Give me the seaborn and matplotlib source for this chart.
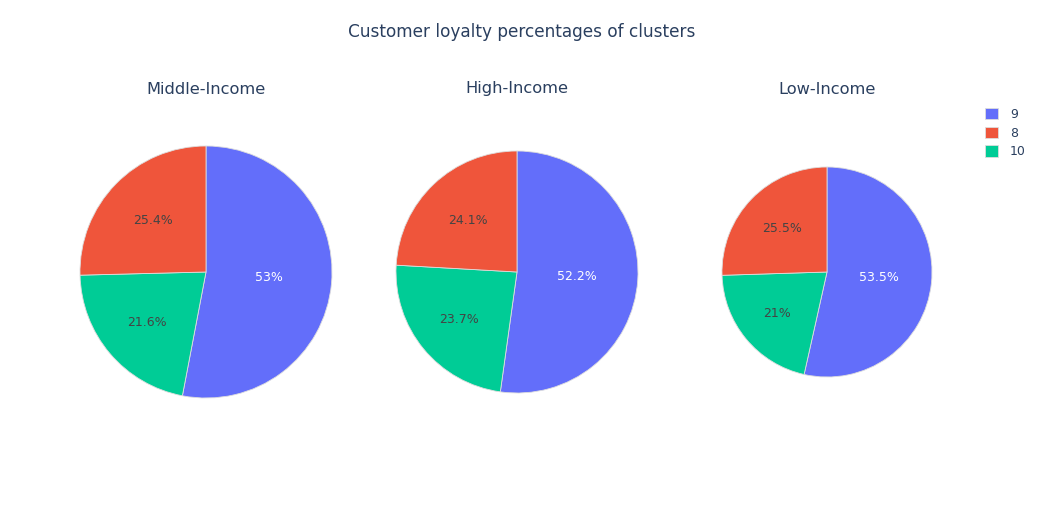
import matplotlib
matplotlib.use("Agg")
import matplotlib.pyplot as plt
import seaborn as sns
import numpy as np

# cluster labels in legend order, and the percentages
clusters = ["9", "8", "10"]
groups = ["Middle-Income", "High-Income", "Low-Income"]
middle_income = [53.0, 25.4, 21.6]
high_income = [52.2, 24.1, 23.7]
low_income = [53.5, 25.5, 21.0]

sns.set_theme(style="white")
plt.rcParams["font.family"] = ["DejaVu Sans"]

colors = sns.color_palette(["#636efa", "#EF553B", "#00cc96"])
text_dark = "#2a3f5f"

W, H = 1043, 525
fig = plt.figure(figsize=(W / 100, H / 100), dpi=100)
ax = fig.add_axes([0, 0, 1, 1])

# pie layout in pixel coordinates (y measured from top)
centers_x = [206, 517, 827]
center_y = 272
radii = [126, 121, 105]
title_y = 89
# how far out each percentage sits (fraction of radius), per cluster 9, 8, 10
label_dist = [0.50, 0.59, 0.62]

# slice drawing order (clockwise from 12 o'clock): 9, 10, 8
order = [0, 2, 1]
all_wedges = []
for vals, cx, r, name in zip([middle_income, high_income, low_income], centers_x, radii, groups):
    v = [vals[i] for i in order]
    c = [colors[i] for i in order]
    cy = H - center_y
    wedges, texts, autotexts = ax.pie(
        v, colors=c, startangle=90, counterclock=False,
        center=(cx, cy), radius=r,
        autopct=lambda p: f"{p:.3g}%", pctdistance=0.56,
        wedgeprops=dict(linewidth=0.6, edgecolor="#dddddd"),
        textprops=dict(fontsize=9),
    )
    for w, t, idx in zip(wedges, autotexts, order):
        ang = np.deg2rad((w.theta1 + w.theta2) / 2)
        d = label_dist[idx] * r
        t.set_position((cx + d * np.cos(ang), cy + d * np.sin(ang)))
        t.set_color("white" if idx == 0 else "#444444")
    all_wedges.append(wedges)
    ax.text(cx, H - title_y, name, ha="center", va="center", fontsize=11.7, color=text_dark)

ax.set_xlim(0, W)
ax.set_ylim(0, H)
ax.set_aspect("equal")
ax.axis("off")

ax.text(522, H - 32, "Customer loyalty percentages of clusters", ha="center", va="center",
        fontsize=12.2, color=text_dark)

w0 = all_wedges[0]
handles = [w0[0], w0[2], w0[1]]
leg = ax.legend(handles, clusters, loc="upper left", bbox_to_anchor=(980 / W, 1 - 103 / H),
                frameon=False, fontsize=9, handlelength=1.0, handleheight=1.0,
                labelspacing=0.45, handletextpad=1.0, borderaxespad=0)
for t in leg.get_texts():
    t.set_color(text_dark)

fig.savefig("out.png", dpi=100, facecolor="white")
